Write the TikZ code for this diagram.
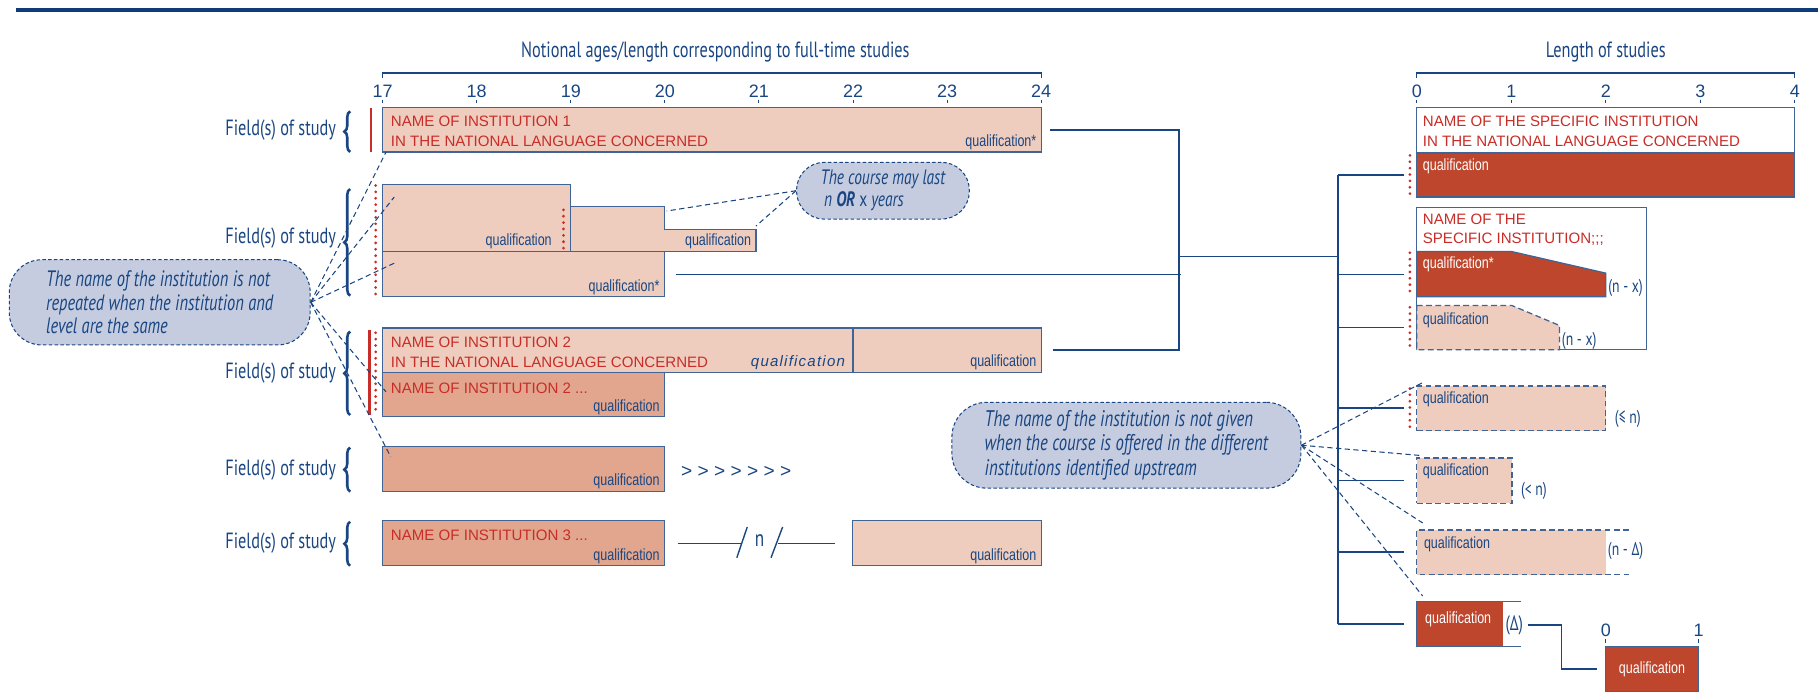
\documentclass[tikz,border=0pt]{standalone}
\usepackage{fontspec}
\setmainfont{Liberation Sans}
\newfontfamily\cond[FakeStretch=0.74]{PT Sans}
\newfontfamily\narrow[FakeStretch=0.77]{Liberation Sans}
\usetikzlibrary{decorations.pathreplacing}

\definecolor{navy}{RGB}{25,70,130}
\definecolor{rulecol}{RGB}{14,60,120}
\definecolor{edge}{RGB}{65,100,150}
\definecolor{pale}{RGB}{239,205,190}
\definecolor{mid}{RGB}{226,166,142}
\definecolor{deep}{RGB}{190,70,45}
\definecolor{redtext}{RGB}{200,45,40}
\definecolor{bubble}{RGB}{197,204,224}

\begin{document}
\begin{tikzpicture}[x=1pt, y=-1pt,
  box/.style={draw=edge, line width=1.1pt, anchor=north west, inner sep=0pt, outer sep=0pt},
  palebox/.style={box, fill=pale},
  midbox/.style={box, fill=mid},
  deepbox/.style={box, fill=deep},
  iname/.style={anchor=base west, inner sep=0pt, text=redtext, font=\fontsize{13}{17}\selectfont},
  qual/.style={anchor=base east, inner sep=0pt, text=navy, font=\narrow\fontsize{14}{17}\selectfont},
  bqual/.style={qual, anchor=base west},
  wqual/.style={qual, anchor=base west, text=white},
  head/.style={anchor=base, inner sep=0pt, text=navy, font=\cond\fontsize{19}{20}\selectfont},
  field/.style={head, anchor=east},
  tick/.style={anchor=base, inner sep=0pt, text=navy, font=\fontsize{15.5}{18}\selectfont},
  lab/.style={inner sep=0pt, text=navy, font=\cond\fontsize{16}{18}\selectfont},
  brc/.style={draw=navy, line width=2.2pt, decorate, decoration={brace, amplitude=5pt}},
  link/.style={draw=navy, line width=1.2pt},
  hint/.style={draw=navy, line width=0.9pt, dash pattern=on 4.5pt off 3pt},
  dots/.style={draw=redtext, line width=2.6pt, line cap=round, dash pattern=on 0pt off 5.5pt},
  note/.style={fill=bubble, draw=navy, line width=0.9pt, dash pattern=on 3pt off 2pt, align=left, inner sep=0pt, text=navy}
]
\useasboundingbox (0,0) rectangle (1568,600);
\draw[rulecol, line width=3.5pt] (14,9) -- (1568,9);

\node[head] (agehead) at (617,50) {Notional ages/length corresponding to full-time studies};
\node[head] (lenhead) at (1385,50) {Length of studies};
\draw[link, line width=1pt] (330,67) -- (330,63) -- (898,63) -- (898,67);
\draw[link, line width=1pt] (1222,67) -- (1222,63) -- (1548,63) -- (1548,67);
\foreach \a [count=\i from 0] in {17,...,24} {
  \node[tick] (age\a) at (330+81.14*\i,84) {\a};
  \draw[navy, line width=0.8pt] (330+81.14*\i,86) -- ++(0,3);
}
\foreach \a in {0,...,4} {
  \node[tick] (len\a) at (1222+81.5*\a,84) {\a};
  \draw[navy, line width=0.8pt] (1222+81.5*\a,86) -- ++(0,3);
}

\foreach \y/\t/\b [count=\i] in {112/96/131, 205/163/255, 322/286/358, 405/386/424, 468/450/488} {
  \node[field] (field\i) at (290,\y) {Field(s) of study};
  \draw[brc] (302,\b) -- (302,\t);
}

\draw[redtext, line width=2.5pt] (320,93) -- (320,131);
\node[palebox, minimum width=568pt, minimum height=38pt] (inst1) at (330,93) {};
\node[iname] (inst1a) at (337,109) {NAME OF INSTITUTION 1};
\node[iname] (inst1b) at (337,126) {IN THE NATIONAL LANGUAGE CONCERNED};
\node[qual] (q1) at (894,126.5) {qualification*};

\draw[dots] (324,160) -- (324,255);
\node[palebox, minimum width=162pt, minimum height=58pt] (yrA) at (330,159) {};
\coordinate (stepB) at (573,178);
\coordinate (stepC) at (652,198);
\filldraw[fill=pale, draw=edge, line width=1.1pt] (492,178) -- (stepB) -- (573,198) -- (stepC) -- (652,217) -- (492,217) -- cycle;
\node[palebox, minimum width=243pt, minimum height=39pt] (yrD) at (330,217) {};
\draw[dots] (486,181) -- (486,215);
\node[qual] (qA) at (476,212) {qualification};
\node[qual] (qC) at (648,212) {qualification};
\node[qual] (qD) at (569,251.5) {qualification*};

\draw[redtext, line width=2.5pt] (319,285) -- (319,358);
\draw[dots] (324,287) -- (324,358);
\node[palebox, minimum width=405.6pt, minimum height=38pt] (inst2) at (330,283) {};
\node[palebox, minimum width=162.4pt, minimum height=38pt] (inst2r) at (735.6,283) {};
\node[midbox, minimum width=243pt, minimum height=38pt] (inst2c) at (330,321) {};
\node[iname] (inst2a) at (337,300) {NAME OF INSTITUTION 2};
\node[iname] (inst2b) at (337,317) {IN THE NATIONAL LANGUAGE CONCERNED};
\node[qual, font=\addfontfeature{LetterSpace=8}\itshape\fontsize{13}{17}\selectfont] (q2) at (729,316.5) {qualification};
\node[qual] (q2r) at (894,316.5) {qualification};
\node[iname] (inst2d) at (337,339) {NAME OF INSTITUTION 2 ...};
\node[qual] (q2c) at (569,354.5) {qualification};

\node[midbox, minimum width=243pt, minimum height=39pt] (inst4) at (330,385) {};
\node[qual] (q4) at (569,419) {qualification};
\node[text=navy, font=\fontsize{16.5}{18}\selectfont] (more) at (635,407) {> > > > > > >};

\node[midbox, minimum width=243pt, minimum height=39pt] (inst3) at (330,449) {};
\node[iname] (inst3a) at (337,466) {NAME OF INSTITUTION 3 ...};
\node[qual] (q3) at (569,483) {qualification};
\node[palebox, minimum width=162.5pt, minimum height=39pt] (inst3r) at (735.5,449) {};
\node[qual] (q3r) at (894,483) {qualification};
\node[lab, font=\cond\fontsize{20}{20}\selectfont] (gapn) at (655,466) {n};
\draw[link] ([xshift=11.5pt]inst3.east) -- ([xshift=-16pt]gapn.center |- inst3.east);
\draw[link] ([xshift=16pt]gapn.center |- inst3.east) -- ([xshift=-15pt]inst3r.west);
\draw[link] ([shift={(-19.5,15)}]gapn.center) -- ++(9,-26.5);
\draw[link] ([shift={(10,15)}]gapn.center) -- ++(10,-26.5);

\coordinate (jL) at (1017,221);
\coordinate (jR) at (1154,221);
\draw[link] ([xshift=8pt]inst1.east) -| (jL) -- (jR);
\draw[link] ([xshift=10pt]inst2r.east) -| (jL);
\draw[link] ([xshift=10pt]yrD.east) -- ([xshift=2pt]jL |- yrD.east);

\node[box, fill=white, minimum width=326pt, minimum height=39pt] (spec1) at (1222,93) {};
\node[deepbox, minimum width=326pt, minimum height=38pt] (spec1q) at (1222,132) {};
\node[iname] (spec1a) at (1227,109) {NAME OF THE SPECIFIC INSTITUTION};
\node[iname] (spec1b) at (1227,126) {IN THE NATIONAL LANGUAGE CONCERNED};
\node[wqual] (w1) at (1227,147) {qualification};
\draw[dots] (1216,134) -- (1216,170);

\node[box, fill=white, minimum width=198pt, minimum height=122.7pt] (spec2) at (1222,179) {};
\node[iname] (spec2a) at (1227,194) {NAME OF THE};
\node[iname] (spec2b) at (1227,210) {SPECIFIC INSTITUTION;;;};
\filldraw[fill=deep, draw=edge, line width=1.1pt] (1222,217) -- (1304,217) -- (1385,235.6) -- (1385,256) -- (1222,256) -- cycle;
\node[wqual] (w2) at (1227,232) {qualification*};
\node[lab] (nx1) at (1402,248) {(n - x)};
\draw[dots] (1216,218) -- (1216,256);
\filldraw[fill=pale, draw=edge, line width=1.1pt, dash pattern=on 5pt off 3pt] (1222,263.5) -- (1304,263.5) -- (1345,280.7) -- (1345,301.7) -- (1222,301.7) -- cycle;
\node[bqual] (w3) at (1227,279.5) {qualification};
\node[lab] (nx2) at (1362,294) {(n - x)};
\draw[dots] (1216,265) -- (1216,301);

\node[box, fill=pale, dash pattern=on 5pt off 3pt, minimum width=163pt, minimum height=38.5pt] (var1) at (1222,333) {};
\node[bqual] (v1) at (1227,348) {qualification};
\node[lab] (le) at (1404,361) {(≤ n)};
\draw[dots] (1216,335) -- (1216,370);
\node[box, fill=pale, dash pattern=on 5pt off 3pt, minimum width=82pt, minimum height=39pt] (var2) at (1222,395) {};
\node[bqual] (v2) at (1227,410.5) {qualification};
\node[lab] (lt) at (1323,423) {(< n)};
\node[box, draw=none, fill=pale, minimum width=163pt, minimum height=38.7pt] (var3) at (1222,457) {};
\draw[edge, line width=1.1pt, dash pattern=on 5pt off 3pt] ([xshift=20pt]var3.north east) -- (var3.north west) -- (var3.south west) -- ([xshift=20pt]var3.south east);
\node[bqual] (v3) at (1228,473) {qualification};
\node[lab] (nd) at (1402,475.5) {(n - Δ)};
\node[box, draw=none, fill=deep, minimum width=74pt, minimum height=38.4pt] (var4) at (1222,519) {};
\draw[edge, line width=1.1pt] ([xshift=15.7pt]var4.north east) -- (var4.north west) -- (var4.south west) -- ([xshift=15.7pt]var4.south east);
\node[wqual] (v4) at (1229,538) {qualification};
\node[lab, font=\cond\fontsize{18}{18}\selectfont] (delta) at (1306,539) {(Δ)};
\node[deepbox, minimum width=79.6pt, minimum height=39pt] (unit) at (1385,557.4) {};
\node[qual, anchor=center, text=white] (v5) at (unit.center) {qualification};
\node[tick] (unit0) at (1385,549) {0};
\node[tick] (unit1) at (1465,549) {1};
\draw[navy, line width=0.8pt] (1385,551) -- ++(0,4);
\draw[navy, line width=0.8pt] (1465,551) -- ++(0,4);
\draw[link] ([xshift=4pt]delta.east) -| (1346.6,560) |- ([xshift=-7.5pt]unit.west);

\foreach \y [count=\i] in {151,236.5,282.6,352,414.5,476,538.2} \coordinate (b\i) at (1211,\y);
\draw[link] (jR |- b1) -- (jR |- b7);
\foreach \i in {1,...,7} \draw[link] (jR |- b\i) -- (b\i);

\node[note, minimum width=149pt, minimum height=49pt, rounded corners=24pt, font=\cond\itshape\fontsize{18}{19}\selectfont] (cnote) at (761.5,164.5) {The course may last\\\hspace{3pt}n \textbf{OR} {\upshape x} years};
\node[note, minimum width=259.5pt, minimum height=73.5pt, rounded corners=28pt, font=\cond\itshape\fontsize{19.2}{20}\selectfont] (lnote) at (137.75,260.75) {The name of the institution is not\\repeated when the institution and\\level are the same};
\node[note, minimum width=301pt, minimum height=74pt, rounded corners=30pt, font=\cond\itshape\fontsize{19.5}{21.5}\selectfont] (rnote) at (971.5,384) {The name of the institution is not given\\when the course is offered in the different\\institutions identified upstream};

\draw[hint] (cnote.west) -- ([shift={(2,4)}]stepB);
\draw[hint] (cnote.west) -- ([shift={(0,-3)}]stepC);
\draw[hint] (lnote.east) -- ([xshift=3pt]inst1.south west);
\draw[hint] (lnote.east) -- ([shift={(10,11)}]yrA.north west);
\draw[hint] (lnote.east) -- ([shift={(10,10)}]yrD.north west);
\draw[hint] (lnote.east) -- ([shift={(3,17)}]inst2c.north west);
\draw[hint] (lnote.east) -- ([shift={(7,9)}]inst4.north west);
\draw[hint] (rnote.east) -- ([shift={(5,-3)}]var1.north west);
\draw[hint] (rnote.east) -- ([shift={(5,-2)}]var2.north west);
\draw[hint] (rnote.east) -- ([shift={(5,-6)}]var3.north west);
\draw[hint] (rnote.east) -- ([shift={(5,-5)}]var4.north west);
\end{tikzpicture}
\end{document}
